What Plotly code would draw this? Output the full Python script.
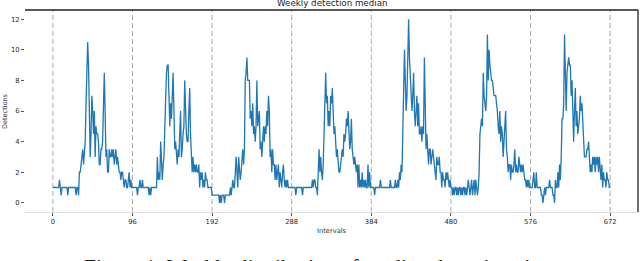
import plotly.graph_objects as go

# Median detections per 15-minute interval, one list per day (96 intervals each)
day0 = [1,1,1,1,1,1,1,1,1.5,1,0.5,1,1,1,1,1,1,1,0.5,1,1,1,1,1,1,1,1,1,0.5,1,1,0.5,
        2,2,2.5,3,3.5,2.5,3.5,4,6.5,8.5,10.5,9,6,3,4.5,7,6,4.5,6,3,5,4.5,4.5,4,2.5,2.5,3.5,3.5,4,6.5,
        8.5,6,3,3.5,2,2,3.5,3,3,3.5,3,3.5,2.5,3,3.5,2.5,3,2.5,2,2,1.5,2,2,1.5,1,1.5,1.5,1,1,1.5,2,1,1.5,1]
day1 = [1,1,1,1,1,1,0.5,1,1,1.5,1,1,1.5,1,1,1,1,1,1,1,0.5,1,0.5,1,1,1,1,1,1,1,3,1.5,
        2,1.5,4,2,1.5,2.5,3,5,8,8.5,9,9,7,5,6.5,5.5,7,8.5,6,3.5,4,3,2.5,3.5,3,4.5,6,3,3.5,4.5,
        5,8,5.5,4.5,4,4,6,7.5,4.5,3,2,3,2,2.5,2,2.5,2,2,2.5,1,2,1.5,2,1,1.5,1,2,1.5,1.5,1,1,1,1,1]
day2 = [0.5,0.5,0.5,0.5,0.5,0.5,0.5,0.5,0.5,0,0.5,0,0.5,0.5,0.5,0,0.5,0.5,0.5,0.5,0.5,0.5,1,0.5,1,1.5,1,1,2,3,2,1,
        3,2,1.5,2,3,3.5,2.5,3.5,8,8.5,9.5,8,8,8,5.5,6,5,6.5,4.5,5,4,5,8,5,5.5,6,3.5,4,3,4.5,
        5,4,5,4.5,6,5,7,6,3,3.5,2,3.5,2.5,2.5,1.5,2.5,1.5,2,2.5,1,2,1.5,1,2,2.5,1.5,1,1.5,1,1.5,1,1,1,1]
day3 = [1,1,1,1,1,0.5,1,1,1,1,1,1,1,0.5,1,1,1,1,1,1,1,1,1,1,1,1.5,1,1.5,1.5,1,1,0.5,
        2.5,3.5,2,3,2,1.5,2.5,5,6.5,8.5,6.5,7,5,6,5,7,6.5,7.5,6,4.5,5,4,3,3.5,2.5,2,2,2.5,3,3.5,
        3,4.5,4,4.5,5.5,5,6,4.5,3.5,4,5.5,3.5,3,2.5,3,2.5,2,2.5,1,2.5,1,1.5,1,2,1,1.5,1,1.5,1,1,2.5,1,2,1]
day4 = [1,1,1,1,0.5,1,1,1,1,1,1,1.5,1,1,1,1,1,1,1,1,1,1,1,1.5,1,1,1,1,1,1.5,1,1,
        1.5,1,2,1.5,2.5,2,5,8,10,8,6,7,9,12,9.5,8,7,6,7,8.5,6,5,6,7,5,6.5,4.5,4.5,5,4,
        5,4.5,9.5,6,3.5,4.5,3,2.5,3.5,3.5,2.5,3,3.5,3,2.5,2,1.5,3,2.5,2.5,3,2,2,1,2,1.5,1.5,1,2,1.5,2,1.5,1,1.5]
day5 = [1,1,0.5,1,0.5,1,1,0.5,1,0.5,1,1,0.5,1,0.5,1,1,0.5,1,0.5,1,1.5,1,0.5,1,1.5,0.5,1,1.5,0.5,1.5,1,
        0.5,1,2,4.5,5,5.5,5,8.5,7,6.5,6,7,11,8,10,9,8.5,8,8,7.5,7,7,7,6.5,6,5,4.5,6,4,5,
        4.5,3,4,5,6,3.5,3,2,2.5,2.5,1.5,2.5,2,2,2.5,3.5,2,2.5,2,2,3,2.5,2,2.5,2,2.5,2,1.5,1.5,1,1.5,1,1.5,1]
day6 = [1,1,1,1.5,2,1,1,2,1,1,1,1,1,0.5,0.5,0,0.5,1,0.5,1,1,1,1,1.5,1,1,1,0.5,0.5,0,1.5,1,
        1,2,1,2.5,1.5,3,5.5,5.5,6.5,11,8,6,8.5,9,9.5,9,9,7,8,6,4,6,7.5,5,6,4.5,5,5.5,7,6,
        6.5,5,4,3,3,3,3.5,3.5,4,3,2,2.5,2,3,2.5,3,2,3,2.5,3,2,3,2,1.5,2.5,1,2,1.5,1.5,1,2,1.5,1.5,1,1]

x_ticks = [0, 96, 192, 288, 384, 480, 576, 672]
y_ticks = [0, 2, 4, 6, 8, 10, 12]

title_text = "Weekly detection median"
x_label = "Intervals"
y_label = "Detections"
caption = "Figure 1: Weekly distribution of median detections in"

values = day0 + day1 + day2 + day3 + day4 + day5 + day6
intervals = list(range(len(values)))

fig = go.Figure()
fig.add_trace(go.Scatter(x=intervals, y=values, mode="lines",
                         line=dict(color="#1f77b4", width=1.3), hoverinfo="skip"))

# dashed day boundaries
for t in x_ticks:
    fig.add_shape(type="line", xref="x", yref="paper", x0=t, x1=t, y0=0, y1=1,
                  line=dict(color="#aaaaaa", width=1, dash="5px,3px"), layer="below")

# top & right frame lines
fig.add_shape(type="line", xref="paper", yref="paper", x0=0, x1=1, y0=1, y1=1,
              line=dict(color="#222222", width=1.3))
fig.add_shape(type="line", xref="paper", yref="paper", x0=1, x1=1, y0=0, y1=1,
              line=dict(color="#222222", width=1.3))

tickfont = dict(family="DejaVu Sans", size=6.8, color="#2a2a2a")
xmin, xmax = min(x_ticks), max(x_ticks)
ymin, ymax = min(values), max(values)
xpad = (xmax - xmin) * 0.05
ypad = (ymax - ymin) * 0.05

fig.update_layout(
    width=640, height=261,
    margin=dict(l=25, r=2, t=10, b=49, autoexpand=False),
    paper_bgcolor="white", plot_bgcolor="white",
    showlegend=False,
    xaxis=dict(range=[xmin - xpad, xmax + xpad], tickvals=x_ticks, ticktext=[str(v) for v in x_ticks],
               showgrid=False, zeroline=False, showline=True, linecolor="#dddddd", linewidth=1,
               ticks="outside", ticklen=3, tickwidth=0.8, tickcolor="#555555",
               tickfont=tickfont, automargin=False),
    yaxis=dict(range=[ymin - ypad, ymax + ypad], tickvals=y_ticks, ticktext=[str(v) for v in y_ticks],
               showgrid=False, zeroline=False, showline=False,
               ticks="outside", ticklen=3, tickwidth=0.8, tickcolor="#555555",
               tickfont=tickfont, automargin=False),
    annotations=[
        dict(text=title_text, xref="paper", yref="paper", x=0.5, y=1.033, xanchor="center",
             yanchor="middle", showarrow=False, font=dict(family="DejaVu Sans", size=8.7, color="#222222")),
        dict(text=x_label, xref="paper", yref="paper", x=0.5, y=-0.094, xanchor="center",
             yanchor="middle", showarrow=False, font=dict(family="DejaVu Sans", size=6.7, color="#333333")),
        dict(text=y_label, xref="paper", yref="paper", x=0, xshift=-20, y=0.5, xanchor="center",
             yanchor="middle", textangle=-90, showarrow=False,
             font=dict(family="DejaVu Sans", size=6.5, color="#333333")),
        dict(text=caption, xref="paper", yref="paper", x=0.093, y=-0.205, xanchor="left",
             yanchor="top", showarrow=False,
             font=dict(family="Liberation Serif", size=21.4, color="#111111")),
    ],
)

fig.write_html("out.html", config={"displayModeBar": False},
               post_script="document.body.style.margin='0';")
